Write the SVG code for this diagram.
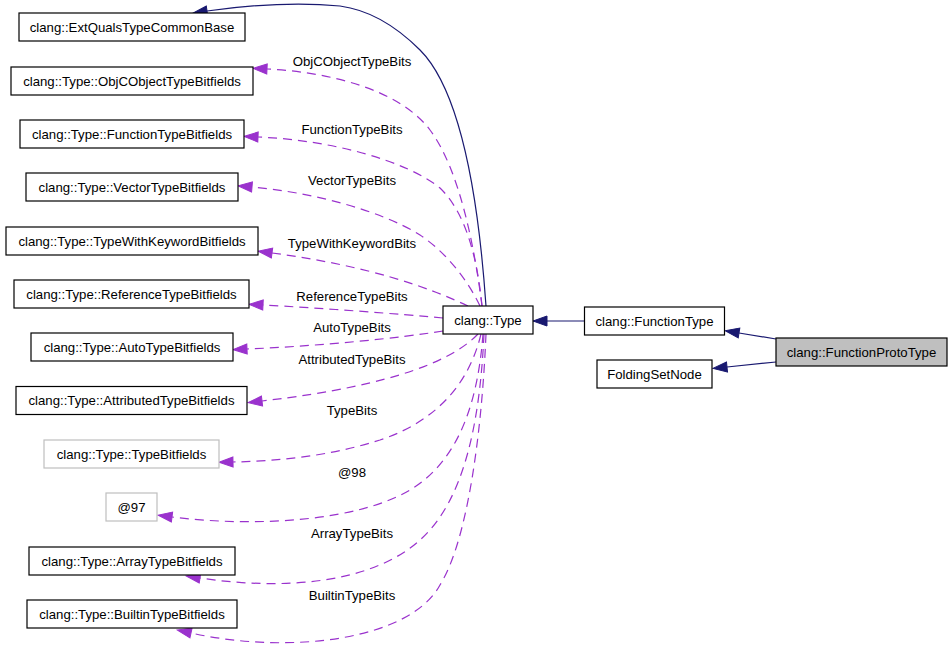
<svg xmlns="http://www.w3.org/2000/svg" width="952" height="650" viewBox="0 0 952 650">
<style>
.n rect{fill:#fff;stroke:#000;stroke-width:1.2}
.n.g rect{stroke:#bfbfbf}
.n.cur rect{fill:#bfbfbf}
text{font-family:"Liberation Sans",Arial,Helvetica,sans-serif;font-size:13.2px;fill:#000;text-anchor:middle}
.e{fill:none;stroke-width:1.2}
.s{stroke:#191970;marker-end:url(#an)}
.d{stroke:#9a32cd;stroke-dasharray:9,6;marker-end:url(#ap)}
</style>
<defs>
<marker id="an" markerUnits="userSpaceOnUse" markerWidth="16" markerHeight="12" refX="0" refY="5" orient="auto" overflow="visible"><path d="M0,0 L14,5 L0,10 z" fill="#191970" stroke="#191970" stroke-width="1"/></marker>
<marker id="ap" markerUnits="userSpaceOnUse" markerWidth="16" markerHeight="12" refX="0" refY="5" orient="auto" overflow="visible"><path d="M0,0 L14,5 L0,10 z" fill="#9a32cd" stroke="#9a32cd" stroke-width="1"/></marker>
</defs>
<rect width="952" height="650" fill="#fff"/>
<g id="edges">
<path class="e s" d="M486,306 C480,220 465,95 420,50 C395,25 370,10 340,6 C300,2 250,5 207,11"/>
<path class="e d" d="M482,306 C475,250 460,170 430,130 C400,90 330,72 267,69"/>
<path class="e d" d="M482,306 C478,265 468,215 440,188 C405,160 330,140 258,137"/>
<path class="e d" d="M480,306 C470,285 450,255 420,235 C380,210 310,192 252,187"/>
<path class="e d" d="M468,306 C430,288 370,266 272,253"/>
<path class="e d" d="M443,318 C400,314 320,308 263,305"/>
<path class="e d" d="M443,331 C400,338 320,346 247,349"/>
<path class="e d" d="M478,334 C455,358 400,385 262,401"/>
<path class="e d" d="M481,334 C470,380 440,420 380,440 C330,456 280,461 233,462"/>
<path class="e d" d="M483,334 C478,400 460,460 410,490 C360,520 260,528 172,517"/>
<path class="e d" d="M484,334 C480,420 465,500 420,540 C370,585 280,590 200,578"/>
<path class="e d" d="M486,334 C482,430 468,540 440,585 C410,640 290,655 191,633"/>
<path class="e s" d="M584,321 L547,321"/>
<path class="e s" d="M776,339 L739,333"/>
<path class="e s" d="M776,362 L727,367"/>
<text x="352" y="66">ObjCObjectTypeBits</text>
<text x="352" y="134">FunctionTypeBits</text>
<text x="352" y="185">VectorTypeBits</text>
<text x="352" y="248">TypeWithKeywordBits</text>
<text x="352" y="301">ReferenceTypeBits</text>
<text x="352" y="332">AutoTypeBits</text>
<text x="352" y="364">AttributedTypeBits</text>
<text x="352" y="415">TypeBits</text>
<text x="352" y="477">@98</text>
<text x="352" y="538">ArrayTypeBits</text>
<text x="352" y="600">BuiltinTypeBits</text>
</g>
<g id="n_ext" class="n"><rect x="19" y="13" width="226" height="28"/><text x="132" y="31.5">clang::ExtQualsTypeCommonBase</text></g>
<g id="n_objc" class="n"><rect x="11" y="67" width="242" height="28"/><text x="132" y="85.5">clang::Type::ObjCObjectTypeBitfields</text></g>
<g id="n_func" class="n"><rect x="20" y="120" width="224" height="28"/><text x="132" y="138.5">clang::Type::FunctionTypeBitfields</text></g>
<g id="n_vec" class="n"><rect x="26" y="173" width="212" height="28"/><text x="132" y="191.5">clang::Type::VectorTypeBitfields</text></g>
<g id="n_twk" class="n"><rect x="6" y="227" width="252" height="28"/><text x="132" y="245.5">clang::Type::TypeWithKeywordBitfields</text></g>
<g id="n_ref" class="n"><rect x="14" y="280" width="235" height="28"/><text x="131.5" y="298.5">clang::Type::ReferenceTypeBitfields</text></g>
<g id="n_auto" class="n"><rect x="31" y="333" width="202" height="28"/><text x="132" y="351.5">clang::Type::AutoTypeBitfields</text></g>
<g id="n_attr" class="n"><rect x="16" y="386.5" width="231" height="28"/><text x="131.5" y="405">clang::Type::AttributedTypeBitfields</text></g>
<g id="n_tb" class="n g"><rect x="44" y="440" width="175" height="28"/><text x="131.5" y="458.5">clang::Type::TypeBitfields</text></g>
<g id="n_97" class="n g"><rect x="106" y="493" width="51" height="28"/><text x="131.5" y="511.5">@97</text></g>
<g id="n_arr" class="n"><rect x="29" y="547" width="206" height="28"/><text x="132" y="565.5">clang::Type::ArrayTypeBitfields</text></g>
<g id="n_bi" class="n"><rect x="27" y="600" width="210" height="28"/><text x="132" y="618.5">clang::Type::BuiltinTypeBitfields</text></g>
<g id="n_type" class="n"><rect x="443" y="306" width="90" height="28"/><text x="488" y="324.5">clang::Type</text></g>
<g id="n_ft" class="n"><rect x="584.5" y="307" width="140" height="28"/><text x="654.5" y="325.5">clang::FunctionType</text></g>
<g id="n_fsn" class="n"><rect x="597" y="360" width="115" height="28"/><text x="654.5" y="378.5">FoldingSetNode</text></g>
<g id="n_fpt" class="n cur"><rect x="776" y="338" width="171" height="28"/><text x="861.5" y="356.5">clang::FunctionProtoType</text></g>
</svg>
